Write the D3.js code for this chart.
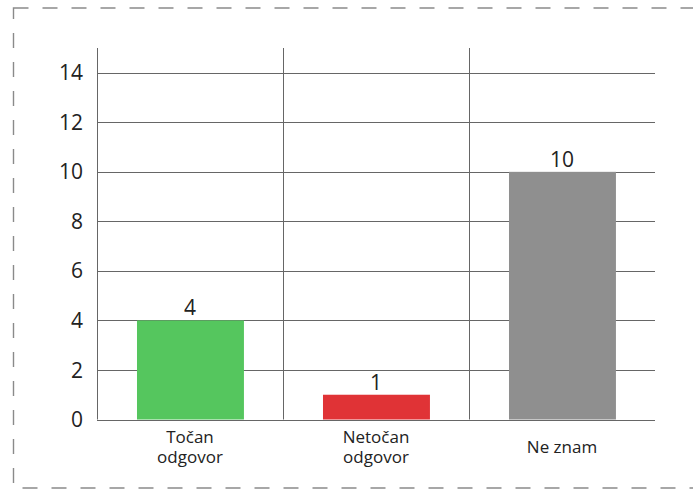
<!DOCTYPE html>
<html><head><meta charset="utf-8">
<script src="https://cdn.jsdelivr.net/npm/d3@7"></script>
<style>body{margin:0;background:#fff;}svg{display:block;font-family:"Open Sans",sans-serif;}</style>
</head><body>
<script>
const categories = [["Točan","odgovor"],["Netočan","odgovor"],["Ne znam"]];
const values = [4, 1, 10];
const colors = ["#55c65e", "#e03336", "#8f8f8f"];
const yTicks = [0, 2, 4, 6, 8, 10, 12, 14];

const W = 693, H = 489;
const svg = d3.select("body").append("svg").attr("width", W).attr("height", H);

svg.append("rect").attr("x", 13.5).attr("y", 8).attr("width", 700).attr("height", 480)
  .attr("fill", "none").attr("stroke", "#8a8a8a").attr("stroke-width", 1.4)
  .attr("stroke-dasharray", "15,14");

const keys = categories.map(c => c.join(" "));
const x = d3.scaleBand().domain(keys).range([97, 655]).padding(0);
const y = d3.scaleLinear().domain([0, 15]).range([419.5, 48]);

const gridColor = "#666";
svg.append("g").selectAll("line").data(yTicks).join("line")
  .attr("x1", 97).attr("x2", 655)
  .attr("y1", d => Math.round(y(d)) + 0.5).attr("y2", d => Math.round(y(d)) + 0.5)
  .attr("stroke", gridColor).attr("stroke-width", 1);
svg.append("g").selectAll("line").data(keys).join("line")
  .attr("x1", d => Math.round(x(d)) + 0.5).attr("x2", d => Math.round(x(d)) + 0.5)
  .attr("y1", y(15)).attr("y2", y(0))
  .attr("stroke", gridColor).attr("stroke-width", 1);

svg.append("g").selectAll("text").data(yTicks).join("text")
  .attr("x", 83).attr("y", d => y(d)).attr("dy", "0.36em")
  .attr("text-anchor", "end").attr("font-size", 21).attr("fill", "#222")
  .text(d => d);

const inset = 0.215, bw = 0.575;
svg.append("g").selectAll("rect").data(values).join("rect")
  .attr("x", (d, i) => x(keys[i]) + x.bandwidth() * inset)
  .attr("width", x.bandwidth() * bw)
  .attr("y", d => y(d)).attr("height", d => y(0) - y(d))
  .attr("fill", (d, i) => colors[i]);

svg.append("g").selectAll("text").data(values).join("text")
  .attr("x", (d, i) => x(keys[i]) + x.bandwidth() / 2)
  .attr("y", d => y(d) - 5)
  .attr("text-anchor", "middle").attr("font-size", 21).attr("fill", "#222")
  .text(d => d);

categories.forEach((lines, i) => {
  const cx = x(keys[i]) + x.bandwidth() / 2;
  const startY = lines.length === 1 ? 453 : 443;
  lines.forEach((ln, j) => {
    svg.append("text").attr("text-anchor", "middle").attr("font-size", 17).attr("fill", "#222")
      .attr("x", cx).attr("y", startY + j * 20).text(ln);
  });
});
</script>
</body></html>
